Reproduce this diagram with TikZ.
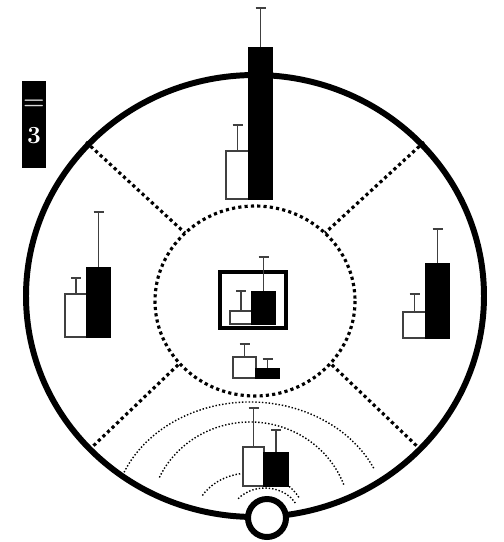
\documentclass[tikz,border=0pt]{standalone}
\usepackage{tikz}
\usetikzlibrary{positioning}

% bar with whisker: left, right, top, bottom, whisker end
\newcommand{\CtrlBar}[5]{%
  \draw[whisker] ({(#1+#2)/2},#3) -- ({(#1+#2)/2},#5) ++(-5,0) -- ++(10,0);
  \draw[ctrlbar] (#1,#4) rectangle (#2,#3);}
\newcommand{\DrugBar}[5]{%
  \draw[whisker] ({(#1+#2)/2},#3) -- ({(#1+#2)/2},#5) ++(-5,0) -- ++(10,0);
  \draw[drugbar] (#1,#4) rectangle (#2,#3);}

\begin{document}
\begin{tikzpicture}[x=0.02cm, y=-0.02cm,
    rim/.style={line width=3.4pt},
    spoke/.style={line width=1.8pt, dash pattern=on 1.8pt off 1.8pt},
    wave/.style={line width=0.8pt, dash pattern=on 0.8pt off 1.1pt},
    whisker/.style={draw=black!75, line width=0.9pt},
    ctrlbar/.style={draw=black!75, line width=0.9pt, fill=white},
    drugbar/.style={draw=black, line width=0.9pt, fill=black}]
  \useasboundingbox (0,0) rectangle (504,542);
  % --- WSPOLRZEDNE ---
  \def\CenterX{255}
  \def\CenterY{296}

  % Obrys zewnetrzny
  \draw[rim] (\CenterX,\CenterY) ellipse [x radius=229, y radius=221];

  % Okrag wewnetrzny i szprychy (kropkowane)
  \draw[spoke] (255,301) ellipse [x radius=100, y radius=95];
  \draw[spoke] (86,142) -- (185,233);
  \draw[spoke] (424,142) -- (325,233);
  \draw[spoke] (89,450) -- (180,363);
  \draw[spoke] (421,450) -- (330,363);

  % Fale od zrodla (cienkie kropki)
  \draw[wave] (250,518) ++(-160:137 and 116) arc [start angle=-160, end angle=-25, x radius=137, y radius=116];
  \draw[wave] (250,518) ++(-155:100 and 96) arc [start angle=-155, end angle=-20, x radius=100, y radius=96];
  \draw[wave] (250,518) ++(-150:55 and 45) arc [start angle=-150, end angle=-25, x radius=55, y radius=45];
  \draw[wave] (265,518) ++(-140:35 and 30) arc [start angle=-140, end angle=-30, x radius=35, y radius=30];

  % Zrodlo na dole
  \draw[rim, fill=white] (267,518) circle (19);

  % Slupki: gora
  \CtrlBar{226}{249}{151}{199}{125}
  \DrugBar{249}{272}{48}{199}{8}
  % lewo
  \CtrlBar{65}{87}{294}{337}{278}
  \DrugBar{87}{110}{268}{337}{212}
  % prawo
  \CtrlBar{403}{426}{312}{338}{294}
  \DrugBar{426}{449}{264}{338}{229}
  % srodek (w ramce)
  \draw[line width=2.3pt] (220,272) rectangle (286,328);
  \CtrlBar{230}{252}{311}{324}{291}
  \DrugBar{252}{275}{292}{324}{257}
  % pod ramka
  \CtrlBar{233}{256}{357}{378}{344}
  \DrugBar{256}{279}{369}{378}{359}
  % dol
  \CtrlBar{243}{264}{447}{486}{408}
  \DrugBar{264}{288}{453}{486}{430}

  % Etykieta
  \fill[black] (22,81) rectangle (46,168);
  \node[text=black!15, font=\fontsize{14}{14}\selectfont\bfseries, inner sep=0pt] (eqsign) at (34,105) {=};
  \node[text=white, font=\fontsize{14}{14}\selectfont\bfseries, inner sep=0pt] (nval) at (34,136) {3};
\end{tikzpicture}
\end{document}
